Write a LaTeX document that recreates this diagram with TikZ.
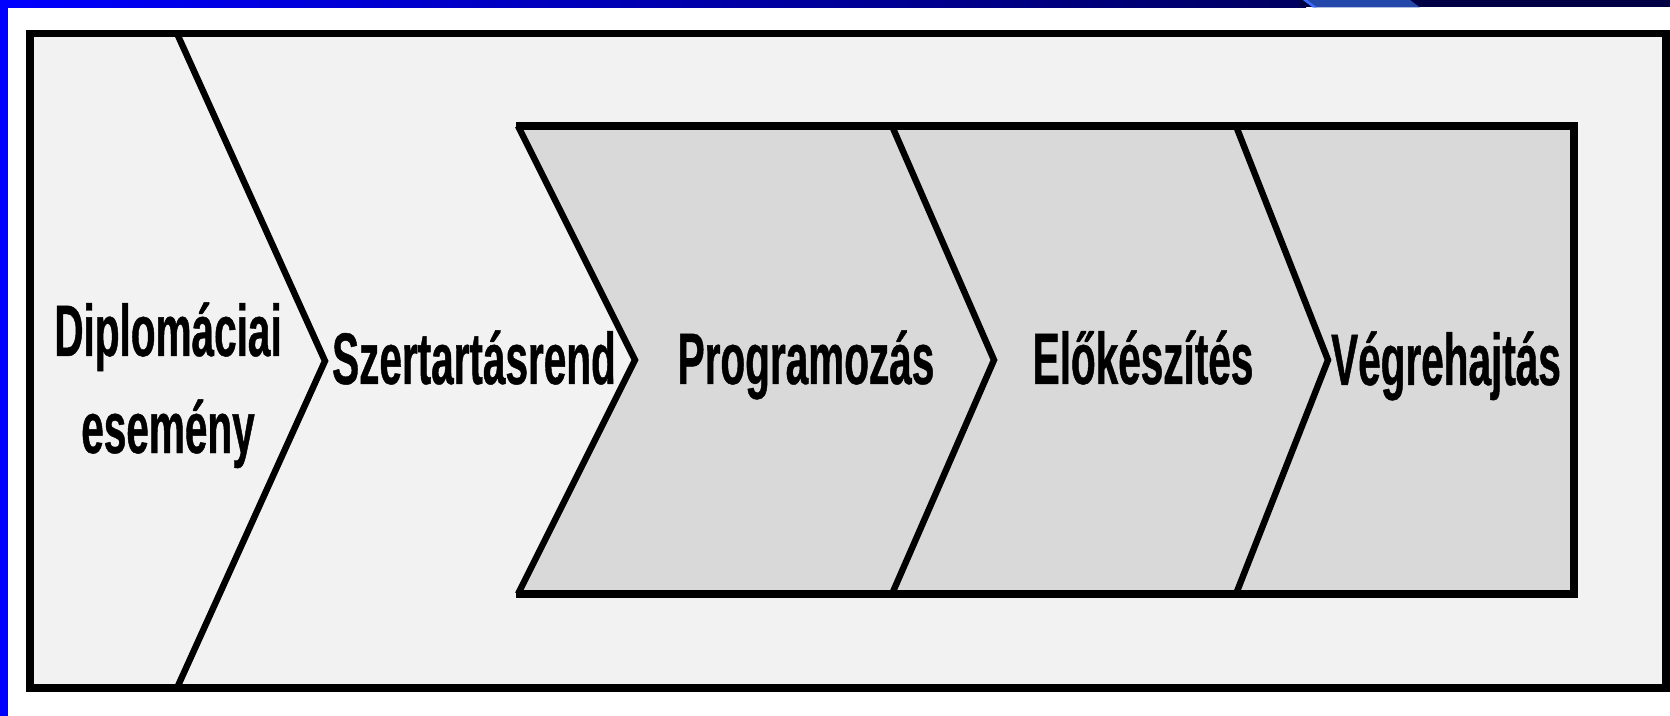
\documentclass[tikz,border=0pt]{standalone}
\usepackage{fontspec}
\newfontfamily\narrowfont[FakeStretch=0.555,FakeBold=0.6]{Liberation Sans}
\definecolor{outerfill}{HTML}{F2F2F2}
\definecolor{innerfill}{HTML}{D9D9D9}
\definecolor{bblue}{HTML}{0000FF}
\definecolor{navy}{HTML}{000060}
\definecolor{navyend}{HTML}{000045}
\definecolor{bandblue}{HTML}{2447AA}
\definecolor{bandedge}{HTML}{3A6CFF}
\begin{document}
\begin{tikzpicture}[x=0.5pt,y=-0.5pt,
  frameline/.style={line width=3.6pt,line join=miter},
  chevline/.style={line width=3.2pt,line join=miter},
  label/.style={font=\narrowfont\bfseries\fontsize{36.5pt}{40pt}\selectfont,anchor=base,inner sep=0pt,text=black}]
\useasboundingbox (0,0) rectangle (1670,716);
\fill[white] (0,0) rectangle (1670,716);
% blue frame strips
\shade[left color=bblue,right color=navy] (0,0) rectangle (1306,7.5);
\fill[navyend] (1300,0) rectangle (1670,7.5);
\fill[bandblue] (1303,0) -- (1410,0) -- (1420,7.5) -- (1313,7.5) -- cycle;
\fill[bandedge] (1303,0) -- (1307,0) -- (1317,7.5) -- (1313,7.5) -- cycle;
\fill[bblue] (0,0) rectangle (7.5,716);
% outer box
\draw[frameline,fill=outerfill] (30,33.5) rectangle (1666,688);
% inner shaded region
\fill[innerfill] (518,126) -- (1574,126) -- (1574,594) -- (518,594) -- (636,360) -- cycle;
\draw[frameline] (516,126) -- (1574,126) -- (1574,594) -- (516,594);
% chevron lines
\draw[chevline] (177,33.5) -- (325,361) -- (177,688);
\draw[chevline] (518,126) -- (635,360) -- (518,594);
\draw[chevline] (892,126) -- (994,360) -- (892,594);
\draw[chevline] (1236,126) -- (1328,360) -- (1236,594);
% labels
\node[label] (dipl) at (168,356) {Diplomáciai};
\node[label] (esem) at (168,453) {esemény};
\node[label] (szer) at (474,384) {Szertartásrend};
\node[label] (prog) at (806,384) {Programozás};
\node[label] (elok) at (1143,384) {Előkészítés};
\node[label] (vegr) at (1446,385) {Végrehajtás};
\end{tikzpicture}
\end{document}
